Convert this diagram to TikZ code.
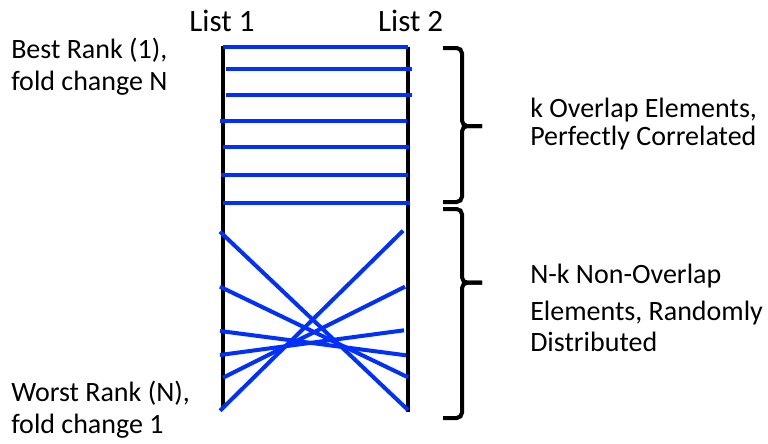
\documentclass[tikz,border=0pt]{standalone}
\usepackage{fontspec}
\setmainfont{Carlito}
\definecolor{rankblue}{RGB}{0,48,255}
\begin{document}
\begin{tikzpicture}[x=0.75pt,y=-0.75pt,
  listline/.style={line width=3pt, black},
  link/.style={line width=3pt, rankblue},
  brace/.style={line width=3pt, black, rounded corners=4pt},
  lbl/.style={anchor=base west, inner sep=0pt, font=\fontsize{21pt}{24pt}\selectfont},
  head/.style={anchor=base, inner sep=0pt, font=\fontsize{23.3pt}{26pt}\selectfont}]
\useasboundingbox (0,0) rectangle (768,443);

% list headings
\node[head] (h1) at (222,31.7) {List 1};
\node[head] (h2) at (410.7,31.7) {List 2};

% the two ranked lists
\coordinate (l1top) at (222.5,46);
\coordinate (l1bot) at (222.5,408);
\coordinate (l2top) at (408.3,47);
\coordinate (l2bot) at (408.3,411.5);
\draw[listline] (l1top) -- (l1bot);
\draw[listline] (l2top) -- (l2bot);

% overlapping elements: same rank in both lists
\coordinate (a1) at (223.3,47.3);  \coordinate (b1) at (407.7,47.3);
\coordinate (a2) at (225.7,69);    \coordinate (b2) at (411.7,69);
\coordinate (a3) at (225.7,94.7);  \coordinate (b3) at (411.7,94.7);
\coordinate (a4) at (220,120.7);   \coordinate (b4) at (406.7,120.7);
\coordinate (a5) at (222.7,147);   \coordinate (b5) at (409,147);
\coordinate (a6) at (221.3,175.3); \coordinate (b6) at (407.7,175.3);
\coordinate (a7) at (223.3,202.7); \coordinate (b7) at (410,202.7);
\foreach \i in {1,...,7} \draw[link] (a\i) -- (b\i);

% non-overlapping elements: shuffled ranks
\coordinate (c1) at (220,231.7);   \coordinate (d1) at (403,230.7);
\coordinate (c2) at (220,286.7);   \coordinate (d2) at (405,286.7);
\coordinate (c3) at (220,331);     \coordinate (d3) at (404,330.3);
\coordinate (c4) at (220,355);     \coordinate (d4) at (406,355.3);
\coordinate (c5) at (223,377.7);   \coordinate (d5) at (408,377.3);
\coordinate (c6) at (220,410.7);   \coordinate (d6) at (408,410);
\draw[link] (c1) -- (d6);
\draw[link] (c2) -- (d5);
\draw[link] (c3) -- (d4);
\draw[link] (c4) -- (d3);
\draw[link] (c5) -- (d2);
\draw[link] (c6) -- (d1);

% braces
\coordinate (t1) at (482,126);
\coordinate (t2) at (482,282.7);
\draw[brace] (443,48) -- (462,48) -- (462,126) -- (t1);
\draw[brace] (t1) -- (462,126) -- (462,202) -- (443,202);
\draw[brace] (443,209) -- (462,209) -- (462,282.7) -- (t2);
\draw[brace] (t2) -- (462,282.7) -- (462,418) -- (443,418);

% labels
\node[lbl] (best1) at (11,58.3) {Best Rank (1),};
\node[lbl] (best2) at (11,90.7) {fold change N};
\node[lbl] (worst1) at (11,401.7) {Worst Rank (N),};
\node[lbl] (worst2) at (11,433.3) {fold change 1};
\node[lbl] (ov1) at (530,117.7) {k Overlap Elements,};
\node[lbl] (ov2) at (530,145) {Perfectly Correlated};
\node[lbl] (nov1) at (530,283.3) {N-k Non-Overlap};
\node[lbl] (nov2) at (530,320) {Elements, Randomly};
\node[lbl] (nov3) at (530,351.7) {Distributed};
\end{tikzpicture}
\end{document}
